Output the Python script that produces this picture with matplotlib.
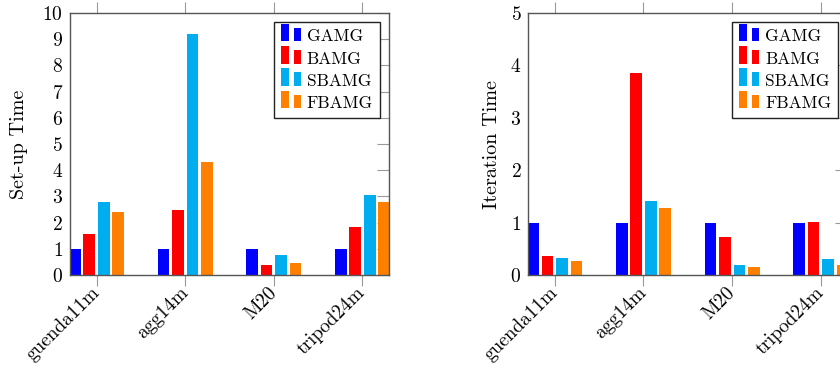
import matplotlib
matplotlib.use("Agg")
import matplotlib.pyplot as plt
import numpy as np
from matplotlib.legend_handler import HandlerBase
from matplotlib.patches import Rectangle

plt.rcParams['font.family'] = ['cmr10', 'DejaVu Serif']
plt.rcParams['axes.formatter.use_mathtext'] = True

categories = ["guenda11m", "agg14m", "M20", "tripod24m"]
series = ["GAMG", "BAMG", "SBAMG", "FBAMG"]
colors = ["#0000FF", "#FF0000", "#00AEEF", "#FF8000"]

setup_gamg = [1.0, 1.0, 1.0, 1.0]
setup_bamg = [1.55, 2.48, 0.37, 1.83]
setup_sbamg = [2.78, 9.21, 0.78, 3.06]
setup_fbamg = [2.41, 4.33, 0.47, 2.79]

iter_gamg = [1.0, 1.0, 1.0, 1.0]
iter_bamg = [0.36, 3.86, 0.72, 1.01]
iter_sbamg = [0.33, 1.41, 0.19, 0.31]
iter_fbamg = [0.27, 1.27, 0.16, 0.19]

setup_data = [setup_gamg, setup_bamg, setup_sbamg, setup_fbamg]
iter_data = [iter_gamg, iter_bamg, iter_sbamg, iter_fbamg]


class TwoBarHandler(HandlerBase):
    def create_artists(self, legend, orig_handle, xdescent, ydescent,
                       width, height, fontsize, trans):
        c = orig_handle.get_facecolor()
        r1 = Rectangle((-xdescent, -ydescent), width * 0.4, height * 1.43,
                       facecolor=c, edgecolor='none', transform=trans)
        r2 = Rectangle((-xdescent + width * 0.65, -ydescent), width * 0.35,
                       height * 1.1, facecolor=c, edgecolor='none', transform=trans)
        return [r1, r2]


fig = plt.figure(figsize=(8.4, 3.69), dpi=100)
axw = 319 / 840
axh = 262 / 369
axb = 94 / 369
ax1 = fig.add_axes([70 / 840, axb, axw, axh])
ax2 = fig.add_axes([528.3 / 840, axb, axw, axh])

x = np.arange(len(categories))
offsets = [-0.245, -0.082, 0.082, 0.245]
bw = 0.132


def draw(ax, data, ymax, ylabel, lpad):
    handles = []
    for i, (vals, col) in enumerate(zip(data, colors)):
        b = ax.bar(x + offsets[i], vals, bw, color=col, edgecolor='none',
                   label=series[i], zorder=2)
        handles.append(b.patches[0])
    ax.set_xlim(-0.3, 3.3)
    ax.set_ylim(0, ymax)
    ax.set_yticks(range(0, ymax + 1))
    ax.set_xticks(x)
    ax.set_xticklabels(categories, rotation=45, ha='right', va='center',
                       rotation_mode='anchor')
    for s in ax.spines.values():
        s.set_color('#555555')
        s.set_linewidth(1.0)
        s.set_zorder(3)
    ax.tick_params(axis='x', which='both', direction='out', length=8,
                   color='#999999', top=True, bottom=True, labelsize=14, pad=3)
    ax.tick_params(axis='y', which='both', direction='in', length=9,
                   color='#999999', left=False, right=True, labelsize=14, pad=5)
    ax.set_ylabel(ylabel, fontsize=14.5, labelpad=lpad)
    leg = ax.legend(handles=handles, labels=series, loc='upper right',
                    handler_map={Rectangle: TwoBarHandler()},
                    fontsize=12.5, frameon=True, fancybox=False,
                    borderaxespad=0.52, handlelength=1.15, handletextpad=0.35,
                    labelspacing=0.4, borderpad=0.4)
    leg.get_frame().set_edgecolor('#222222')
    leg.get_frame().set_linewidth(1.0)
    leg.get_frame().set_alpha(1)


draw(ax1, setup_data, 10, "Set-up Time", 10)
draw(ax2, iter_data, 5, "Iteration Time", 6.5)

fig.savefig("out.png", dpi=100)
